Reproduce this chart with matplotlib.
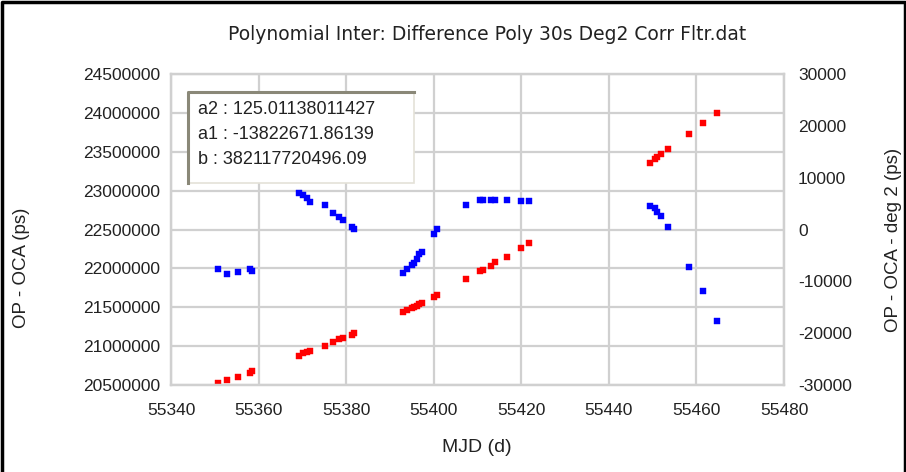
import numpy as np
import matplotlib
matplotlib.use("Agg")
import matplotlib.pyplot as plt
from matplotlib.lines import Line2D
from matplotlib.patches import Rectangle
from matplotlib.ticker import FormatStrFormatter

plt.rcParams['font.family'] = ['Liberation Sans', 'DejaVu Sans']
plt.rcParams['axes.unicode_minus'] = False

# MJD of each sample (d)
mjd = [55350.7, 55352.7, 55355.4, 55358.0, 55358.6,
       55369.2, 55370.2, 55371.1, 55371.7, 55375.2, 55377.1, 55378.4, 55379.2, 55381.3, 55381.9,
       55392.9, 55394.0, 55395.0, 55395.5, 55396.1, 55396.6, 55397.4, 55400.1, 55400.8,
       55407.3, 55410.6, 55411.2, 55413.1, 55414.0, 55416.7, 55419.9, 55421.8,
       55449.5, 55450.5, 55451.1, 55451.8, 55453.6, 55458.3, 55461.4, 55464.6]

# OP - OCA (ps), left axis
op_oca = [20529600, 20564300, 20606800, 20658200, 20680100,
          20876900, 20907700, 20920600, 20937300, 21005500, 21056900, 21087800, 21100700, 21143100, 21165000,
          21435100, 21464700, 21494200, 21507100, 21520000, 21541800, 21558500, 21635700, 21657600,
          21859500, 21966300, 21972700, 22034400, 22078200, 22150200, 22258200, 22322600,
          23359200, 23406800, 23428700, 23471100, 23531600, 23732200, 23866000, 24002300]

# OP - OCA - deg 2 (ps), right axis
resid = [-7620, -8643, -8257, -7620, -7948,
         7099, 6655, 6019, 5363, 4784, 3125, 2469, 1833, 424, 96,
         -8333, -7678, -6848, -6405, -5691, -4726, -4282, -868, 96,
         4726, 5749, 5749, 5749, 5749, 5749, 5440, 5440,
         4533, 4090, 3434, 2604, 424, -7292, -11806, -17651]

coef_lines = ["a2 : 125.01138011427", "a1 : -13822671.86139", "b : 382117720496.09"]

W, H = 906, 472
fig = plt.figure(figsize=(W / 100, H / 100), dpi=100)
ax = fig.add_axes([171 / W, 1 - 385 / H, 613 / W, 311 / H])
ax2 = ax.twinx()

grid_c = '#d0d0d0'
txt_c = '#222222'
ax.plot(mjd, op_oca, 's', color='#ff0000', ms=3.8, mec='#ff0000', mew=0.3)
ax2.plot(mjd, resid, 's', color='#0000ff', ms=3.8, mec='#0000ff', mew=0.3)

ax.set_xlim(55340, 55480)
ax.set_ylim(20500000, 24500000)
ax2.set_ylim(-30000, 30000)
ax.set_xticks(np.arange(55340, 55481, 20))
ax.set_yticks(np.arange(20500000, 24500001, 500000))
ax2.set_yticks(np.arange(-30000, 30001, 10000))
ax.yaxis.set_major_formatter(FormatStrFormatter('%d'))
ax2.yaxis.set_major_formatter(FormatStrFormatter('%d'))
ax.xaxis.set_major_formatter(FormatStrFormatter('%d'))
ax.grid(True, color=grid_c, lw=1.6)
ax.set_axisbelow(True)

for a in (ax, ax2):
    a.tick_params(length=0, labelsize=12.5, colors=txt_c)
    for s in a.spines.values():
        s.set_color(grid_c)
        s.set_linewidth(1.6)
ax.tick_params(axis='y', pad=8)
ax2.tick_params(axis='y', pad=10)
ax.tick_params(axis='x', pad=13)

# axis titles
fig.text(477 / W, 1 - 447 / H, 'MJD (d)', ha='center', va='center', fontsize=14, color=txt_c)
fig.text(22 / W, 1 - 268 / H, 'OP - OCA (ps)', ha='center', va='center',
         rotation=90, fontsize=13.5, color=txt_c)
fig.text(893 / W, 1 - 240 / H, 'OP - OCA - deg 2 (ps)', ha='center', va='center',
         rotation=90, fontsize=13.5, color=txt_c)
fig.text(487 / W, 1 - 35 / H, 'Polynomial Inter: Difference Poly 30s Deg2 Corr Fltr.dat',
         ha='center', va='center', fontsize=13.5, color=txt_c, family='DejaVu Sans')

# coefficient box
bx0, by0, bx1, by1 = 188, 92, 414, 183
fig.add_artist(Rectangle((bx0 / W, 1 - by1 / H), (bx1 - bx0) / W, (by1 - by0) / H,
                         transform=fig.transFigure, facecolor='white',
                         edgecolor='#e4e2d8', lw=1.2, zorder=5))
fig.add_artist(Line2D([bx0 / W, bx0 / W, bx1 / W], [1 - by1 / H, 1 - by0 / H, 1 - by0 / H],
                      transform=fig.transFigure, color='#8a8878', lw=2.2, zorder=6))
for i, t in enumerate(coef_lines):
    fig.text(198 / W, 1 - (110 + 24.5 * i) / H, t, ha='left', va='center',
             fontsize=13, color=txt_c, zorder=7)

# black frame on left, top and right
fig.add_artist(Line2D([1.5 / W, 1.5 / W, 1 - 1.5 / W, 1 - 1.5 / W], [0, 1 - 1.5 / H, 1 - 1.5 / H, 0],
                      transform=fig.transFigure, color='black', lw=2.5))

fig.savefig('out.png', dpi=100)
